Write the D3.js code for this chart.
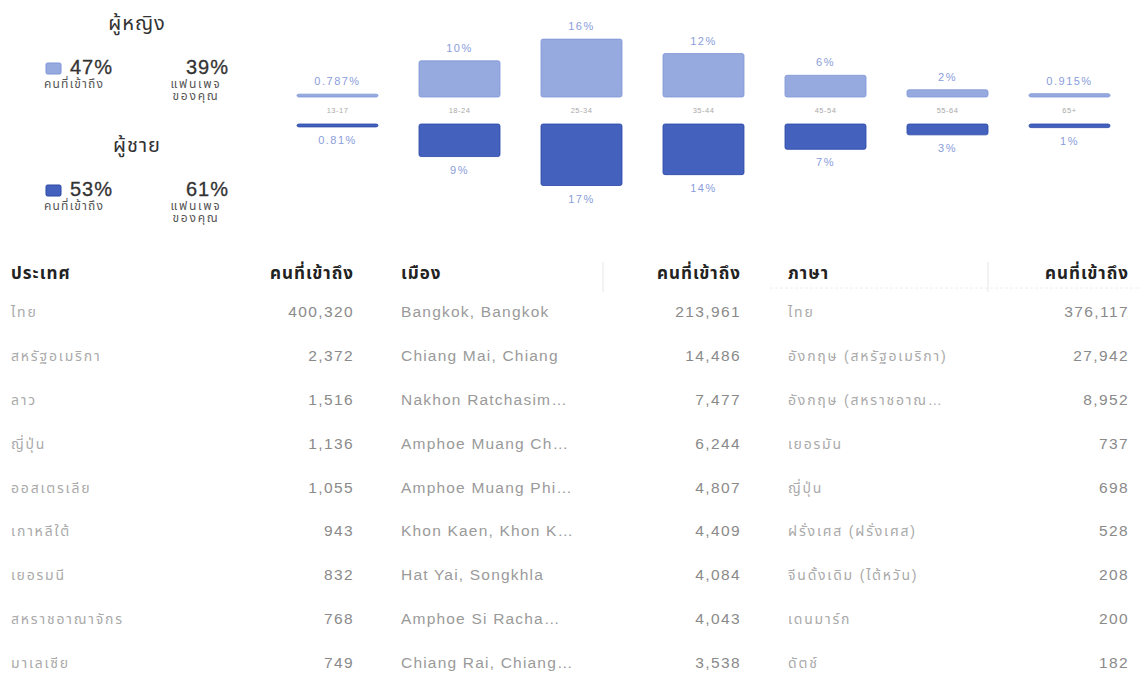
<!DOCTYPE html>
<html>
<head>
<meta charset="utf-8">
<script src="https://cdn.jsdelivr.net/npm/d3@7"></script>
<style>
  body { margin: 0; background: #fff; }
  svg { display: block; font-family: "Liberation Sans", Arial, "Noto Sans Thai", sans-serif; }
</style>
</head>
<body>
<svg id="chart" width="1141" height="674"></svg>
<script>
// age breakdown
const ageGroups = ["13-17", "18-24", "25-34", "35-44", "45-54", "55-64", "65+"];
const femaleValues = [0.787, 10, 16, 12, 6, 2, 0.915];
const maleValues = [0.81, 9, 17, 14, 7, 3, 1];
const femaleLabels = ["0.787%", "10%", "16%", "12%", "6%", "2%", "0.915%"];
const maleLabels = ["0.81%", "9%", "17%", "14%", "7%", "3%", "1%"];

// gender summary
const genders = ["ผู้หญิง", "ผู้ชาย"];
const reachShare = ["47%", "53%"];
const fanShare = ["39%", "61%"];

// tables
const countries = ["ไทย", "สหรัฐอเมริกา", "ลาว", "ญี่ปุ่น", "ออสเตรเลีย", "เกาหลีใต้", "เยอรมนี", "สหราชอาณาจักร", "มาเลเซีย"];
const countryReach = [400320, 2372, 1516, 1136, 1055, 943, 832, 768, 749];
const cities = ["Bangkok, Bangkok", "Chiang Mai, Chiang", "Nakhon Ratchasim…", "Amphoe Muang Ch…", "Amphoe Muang Phi…",
  "Khon Kaen, Khon K…", "Hat Yai, Songkhla", "Amphoe Si Racha…", "Chiang Rai, Chiang…"];
const cityReach = [213961, 14486, 7477, 6244, 4807, 4409, 4084, 4043, 3538];
const languages = ["ไทย", "อังกฤษ (สหรัฐอเมริกา)", "อังกฤษ (สหราชอาณ…", "เยอรมัน", "ญี่ปุ่น", "ฝรั่งเศส (ฝรั่งเศส)",
  "จีนดั้งเดิม (ไต้หวัน)", "เดนมาร์ก", "ดัตช์"];
const languageReach = [376117, 27942, 8952, 737, 698, 528, 208, 200, 182];

const femaleColor = "#97aadf", femaleStroke = "#7f96d6";
const maleColor = "#4462bd", maleStroke = "#2a46a6";
const labelColor = "#8a9ddb";
const fmt = d3.format(",");

const svg = d3.select("#chart");

// ---- legend ----
const legend = svg.append("g");
genders.forEach((g, i) => {
  const top = i * 122;
  const lg = legend.append("g").attr("transform", `translate(0, ${top})`);
  lg.append("text").attr("x", 137).attr("y", 30).attr("text-anchor", "middle")
    .attr("font-size", 20).attr("letter-spacing", 1).attr("fill", "#333").text(g);
  lg.append("rect").attr("x", 46).attr("y", 63).attr("width", 15).attr("height", 11).attr("rx", 1.5)
    .attr("fill", i === 0 ? femaleColor : maleColor)
    .attr("stroke", i === 0 ? femaleStroke : maleStroke);
  lg.append("text").attr("x", 70).attr("y", 74).attr("font-size", 20).attr("letter-spacing", 1)
    .attr("fill", "#333").attr("stroke", "#333").attr("stroke-width", 0.3).text(reachShare[i]);
  lg.append("text").attr("x", 44).attr("y", 88).attr("font-size", 12).attr("letter-spacing", 1.2)
    .attr("fill", "#555").text("คนที่เข้าถึง");
  lg.append("text").attr("x", 229).attr("y", 74).attr("text-anchor", "end").attr("letter-spacing", 1)
    .attr("font-size", 20).attr("fill", "#333").attr("stroke", "#333").attr("stroke-width", 0.3).text(fanShare[i]);
  lg.append("text").attr("x", 196).attr("y", 88).attr("text-anchor", "middle").attr("letter-spacing", 1.8)
    .attr("font-size", 12).attr("fill", "#555").text("แฟนเพจ");
  lg.append("text").attr("x", 196).attr("y", 100).attr("text-anchor", "middle").attr("letter-spacing", 1.8)
    .attr("font-size", 12).attr("fill", "#555").text("ของคุณ");
});

// ---- age bars ----
const x = d3.scaleBand().domain(ageGroups).range([297, 1110]).paddingInner(0.336).paddingOuter(0);
const h = d3.scaleLinear().domain([0, 17]).range([0, 61.5]);
const femaleBase = 97, maleBase = 124;

const cols = svg.append("g").selectAll("g")
  .data(ageGroups.map((a, i) => ({ age: a, f: femaleValues[i], m: maleValues[i], fl: femaleLabels[i], ml: maleLabels[i] })))
  .join("g")
  .attr("transform", d => `translate(${x(d.age)}, 0)`);

cols.append("rect")
  .attr("y", d => femaleBase - Math.max(h(d.f), 2.5))
  .attr("width", x.bandwidth())
  .attr("height", d => Math.max(h(d.f), 2.5))
  .attr("rx", 2)
  .attr("fill", femaleColor).attr("stroke", femaleStroke).attr("stroke-width", 0.8);

cols.append("rect")
  .attr("y", maleBase)
  .attr("width", x.bandwidth())
  .attr("height", d => Math.max(h(d.m), 2.5))
  .attr("rx", 2)
  .attr("fill", maleColor).attr("stroke", maleStroke).attr("stroke-width", 0.8);

cols.append("text")
  .attr("x", x.bandwidth() / 2)
  .attr("y", d => femaleBase - Math.max(h(d.f), 2.5) - 9)
  .attr("text-anchor", "middle").attr("font-size", 11).attr("letter-spacing", 1.5)
  .attr("fill", labelColor).text(d => d.fl);

cols.append("text")
  .attr("x", x.bandwidth() / 2)
  .attr("y", d => maleBase + Math.max(h(d.m), 2.5) + 17)
  .attr("text-anchor", "middle").attr("font-size", 11).attr("letter-spacing", 1.5)
  .attr("fill", labelColor).text(d => d.ml);

cols.append("text")
  .attr("x", x.bandwidth() / 2)
  .attr("y", 113)
  .attr("text-anchor", "middle").attr("font-size", 7.5).attr("letter-spacing", 0.5)
  .attr("fill", "#aaa").text(d => d.age);

// ---- tables ----
const rows = d3.scaleBand().domain(d3.range(countries.length)).range([295, 690]);
const tables = [
  { title: "ประเทศ", names: countries, values: countryReach, x0: 11, x1: 354, thai: true },
  { title: "เมือง", names: cities, values: cityReach, x0: 401, x1: 741, thai: false },
  { title: "ภาษา", names: languages, values: languageReach, x0: 788, x1: 1129, thai: true }
];

// faint header separators
svg.append("line").attr("x1", 603).attr("x2", 603).attr("y1", 262).attr("y2", 292).attr("stroke", "#e6e6e6");
svg.append("line").attr("x1", 988).attr("x2", 988).attr("y1", 262).attr("y2", 292).attr("stroke", "#e6e6e6");
svg.append("line").attr("x1", 770).attr("x2", 1141).attr("y1", 288).attr("y2", 288)
  .attr("stroke", "#eeeeee").attr("stroke-dasharray", "3,2");

tables.forEach(t => {
  const g = svg.append("g");
  g.append("text").attr("x", t.x0).attr("y", 279).attr("font-size", 17).attr("font-weight", "bold")
    .attr("letter-spacing", 1).attr("fill", "#222").text(t.title);
  g.append("text").attr("x", t.x1).attr("y", 279).attr("text-anchor", "end").attr("font-size", 17)
    .attr("font-weight", "bold").attr("letter-spacing", 1).attr("fill", "#222").text("คนที่เข้าถึง");

  g.selectAll(".name").data(t.names).join("text")
    .attr("class", "name")
    .attr("x", t.x0)
    .attr("y", (d, i) => rows(i) + 22)
    .attr("font-size", t.thai ? 14 : 15.5)
    .attr("letter-spacing", t.thai ? 1.8 : 1.2)
    .attr("fill", t.thai ? "#aaa" : "#9a9a9a")
    .text(d => d);

  g.selectAll(".val").data(t.values).join("text")
    .attr("class", "val")
    .attr("x", t.x1)
    .attr("y", (d, i) => rows(i) + 22)
    .attr("text-anchor", "end")
    .attr("font-size", 15.5)
    .attr("letter-spacing", 1.4)
    .attr("fill", "#8a8a8a")
    .text(d => fmt(d));
});
</script>
</body>
</html>
